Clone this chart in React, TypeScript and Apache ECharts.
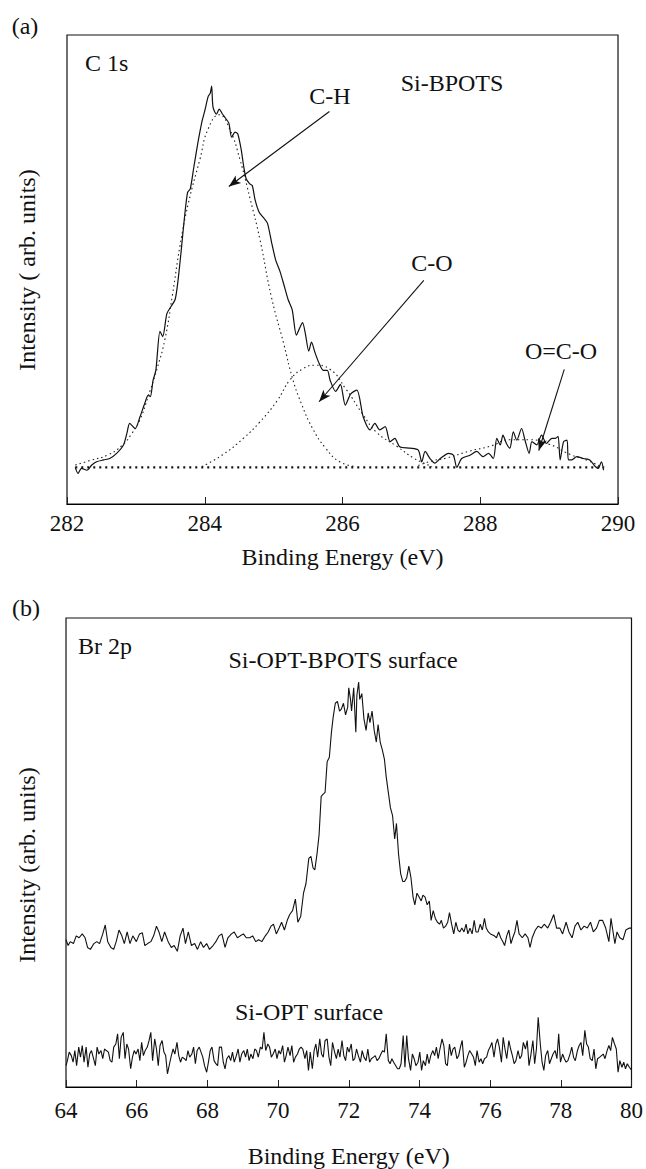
import React, { useEffect, useRef } from "react";
import * as echarts from "echarts";

// ---------- Panel (a): C 1s ----------
const c1sRange = [282, 290];
const c1sTickStep = 2;

const c1sSpectrum: number[][] = [
  [282.12, 7.8], [282.16, 6.5], [282.21, 7.6], [282.29, 7.2], [282.36, 8.3], [282.43, 9.0], [282.53, 9.4],
  [282.62, 9.7], [282.72, 10.8], [282.82, 12.6], [282.87, 15.1], [282.91, 17.2], [282.99, 16.1], [283.06, 18.6],
  [283.13, 21.5], [283.18, 23.2], [283.21, 22.9], [283.25, 26.4], [283.29, 28.5], [283.35, 36.8], [283.39, 35.7],
  [283.45, 40.6], [283.51, 42.1], [283.57, 43.6], [283.61, 47.4], [283.66, 54.3], [283.70, 60.3], [283.75, 66.4],
  [283.79, 67.2], [283.84, 71.7], [283.90, 77.0], [283.96, 81.6], [284.00, 83.8], [284.05, 86.9], [284.08, 87.6],
  [284.10, 89.1], [284.12, 84.6], [284.17, 83.1], [284.21, 84.2], [284.26, 83.1], [284.30, 82.3], [284.35, 81.2],
  [284.39, 78.2], [284.44, 79.3], [284.48, 78.9], [284.53, 75.5], [284.56, 72.5], [284.60, 69.4], [284.65, 68.3],
  [284.69, 67.9], [284.73, 64.9], [284.79, 62.2], [284.85, 61.1], [284.91, 59.9], [284.97, 55.8], [285.03, 52.0],
  [285.09, 49.7], [285.15, 46.7], [285.21, 43.6], [285.27, 41.4], [285.33, 36.0], [285.38, 37.6], [285.42, 38.7],
  [285.46, 36.4], [285.51, 32.6], [285.55, 34.5], [285.60, 32.3], [285.66, 30.0], [285.72, 28.5], [285.78, 28.5],
  [285.82, 26.4], [285.90, 24.0], [285.97, 25.5], [286.04, 21.1], [286.12, 23.5], [286.21, 24.3], [286.30, 18.6],
  [286.40, 15.8], [286.47, 17.2], [286.54, 15.8], [286.62, 16.5], [286.69, 13.3], [286.76, 14.0], [286.83, 12.2],
  [286.98, 11.9], [287.10, 11.5], [287.15, 9.0], [287.20, 11.2], [287.27, 9.7], [287.34, 8.7], [287.42, 9.7],
  [287.54, 10.8], [287.61, 10.4], [287.66, 7.8], [287.73, 9.7], [287.85, 10.4], [287.95, 11.2], [288.04, 10.1],
  [288.12, 10.8], [288.19, 9.7], [288.24, 14.0], [288.29, 12.6], [288.33, 14.7], [288.38, 12.9], [288.43, 11.9],
  [288.48, 15.4], [288.53, 13.6], [288.60, 16.1], [288.65, 13.6], [288.71, 10.8], [288.75, 13.3], [288.82, 12.6],
  [288.89, 14.7], [288.96, 12.9], [289.04, 14.0], [289.09, 14.0], [289.13, 14.4], [289.16, 9.4], [289.21, 13.3],
  [289.26, 13.6], [289.28, 9.4], [289.33, 9.4], [289.40, 10.1], [289.50, 9.7], [289.59, 9.4], [289.67, 8.0],
  [289.71, 7.6], [289.76, 9.0], [289.79, 7.2],
];

const chFit: number[][] = [
  [282.12, 8.3], [282.34, 9.3], [282.6, 10.5], [282.8, 12.5], [282.94, 15.0], [283.06, 18.0], [283.18, 23.0],
  [283.3, 28.5], [283.42, 35.0], [283.53, 44.5], [283.64, 55.0], [283.76, 64.0], [283.93, 73.5], [284.05, 80.0],
  [284.21, 83.0], [284.36, 80.0], [284.51, 73.5], [284.66, 65.0], [284.8, 56.5], [284.97, 44.0], [285.15, 34.0],
  [285.27, 27.0], [285.4, 21.5], [285.57, 16.0], [285.75, 12.0], [285.96, 9.0], [286.2, 8.0],
];

const coFit: number[][] = [
  [283.96, 8.0], [284.26, 10.5], [284.56, 14.0], [284.8, 17.5], [285.05, 22.0], [285.24, 26.5], [285.42, 28.8],
  [285.6, 29.6], [285.81, 28.8], [286.05, 24.5], [286.3, 19.0], [286.5, 15.2], [286.79, 12.3], [287.03, 9.8],
  [287.17, 8.8], [287.3, 8.0],
];

const ocoFit: number[][] = [
  [287.1, 8.2], [287.3, 9.2], [287.51, 9.8], [287.85, 11.3], [288.14, 12.3], [288.43, 13.7], [288.72, 13.7],
  [289.01, 12.7], [289.3, 10.6], [289.59, 9.1], [289.78, 7.7],
];

const c1sBaseline: number[][] = [[282.12, 7.8], [289.8, 7.8]];

// arrows: [from, to] in data units
const c1sArrows: number[][][] = [
  [[285.81, 83.7], [284.35, 67.7]],
  [[287.18, 47.7], [285.66, 21.8]],
  [[289.22, 28.7], [288.85, 11.4]],
];

// ---------- Panel (b): Br 2p ----------
const br2pRange = [64, 80];
const br2pTickStep = 2;

const br2pBPOTS: number[][] = [
  [64.0, 38.0], [64.06, 36.5], [64.12, 37.5], [64.21, 37.0], [64.29, 39.0], [64.37, 38.5], [64.46, 39.5], [64.54, 38.5],
  [64.61, 36.0], [64.69, 35.5], [64.79, 37.0], [64.87, 37.5], [64.95, 37.0], [65.04, 39.5], [65.11, 41.8], [65.18, 37.5],
  [65.27, 36.0], [65.35, 35.5], [65.42, 37.5], [65.5, 40.5], [65.58, 39.0], [65.65, 37.0], [65.73, 40.0], [65.81, 37.0],
  [65.89, 39.0], [65.99, 37.5], [66.08, 39.5], [66.16, 39.8], [66.23, 36.5], [66.31, 37.0], [66.4, 37.5], [66.48, 39.0],
  [66.56, 41.5], [66.63, 40.0], [66.71, 37.5], [66.79, 40.0], [66.89, 37.5], [66.98, 36.0], [67.06, 36.5], [67.15, 35.0],
  [67.23, 39.0], [67.31, 41.0], [67.38, 37.0], [67.46, 40.0], [67.55, 36.5], [67.64, 37.0], [67.72, 35.5], [67.81, 37.5],
  [67.89, 36.0], [67.98, 37.0], [68.06, 35.5], [68.16, 36.5], [68.24, 37.5], [68.33, 39.0], [68.41, 39.5], [68.5, 36.0],
  [68.58, 38.5], [68.68, 39.5], [68.76, 40.0], [68.85, 38.5], [68.93, 39.0], [69.02, 39.5], [69.1, 38.5], [69.2, 38.5],
  [69.28, 39.0], [69.37, 37.5], [69.45, 38.0], [69.54, 37.5], [69.64, 39.0], [69.72, 40.0], [69.8, 41.5], [69.87, 42.0],
  [69.95, 39.5], [70.03, 41.0], [70.1, 42.5], [70.18, 40.5], [70.26, 43.0], [70.33, 44.5], [70.41, 45.5], [70.49, 48.5],
  [70.56, 42.5], [70.64, 44.0], [70.72, 50.0], [70.79, 52.5], [70.87, 59.0], [70.93, 59.5], [70.99, 56.5], [71.04, 56.0],
  [71.1, 60.0], [71.16, 65.0], [71.22, 75.0], [71.27, 75.5], [71.33, 76.0], [71.39, 84.0], [71.45, 85.0], [71.51, 91.5],
  [71.56, 95.5], [71.62, 99.0], [71.68, 99.5], [71.74, 97.0], [71.79, 97.5], [71.85, 99.0], [71.91, 96.0], [71.97, 98.0],
  [72.0, 103.0], [72.05, 100.0], [72.08, 97.0], [72.14, 103.0], [72.2, 91.5], [72.23, 101.0], [72.28, 104.5], [72.31, 100.0],
  [72.37, 101.5], [72.43, 95.0], [72.49, 92.0], [72.55, 96.5], [72.6, 94.0], [72.66, 97.0], [72.72, 92.0], [72.78, 89.0],
  [72.83, 93.5], [72.89, 89.0], [72.95, 87.0], [73.01, 84.5], [73.06, 80.0], [73.12, 76.0], [73.18, 72.0], [73.24, 70.0],
  [73.3, 64.0], [73.35, 68.0], [73.41, 60.0], [73.47, 55.0], [73.53, 53.0], [73.58, 53.0], [73.64, 54.0], [73.7, 57.0],
  [73.76, 54.0], [73.82, 49.0], [73.87, 47.0], [73.93, 50.0], [73.99, 49.0], [74.05, 48.0], [74.1, 49.5], [74.16, 49.0],
  [74.22, 47.0], [74.28, 48.0], [74.33, 43.0], [74.39, 45.5], [74.45, 43.5], [74.51, 42.5], [74.57, 42.0], [74.62, 43.0],
  [74.68, 41.0], [74.74, 41.5], [74.8, 42.5], [74.85, 45.0], [74.91, 42.0], [74.97, 39.5], [75.03, 42.5], [75.09, 40.5],
  [75.14, 40.0], [75.2, 41.0], [75.26, 40.0], [75.32, 42.0], [75.37, 39.5], [75.43, 41.0], [75.49, 39.5], [75.55, 43.0],
  [75.6, 40.0], [75.66, 40.0], [75.72, 42.0], [75.78, 40.5], [75.84, 43.5], [75.89, 41.0], [75.95, 40.0], [76.01, 39.5],
  [76.12, 39.0], [76.18, 38.5], [76.24, 40.0], [76.3, 38.5], [76.36, 37.5], [76.41, 36.5], [76.47, 39.0], [76.53, 40.5],
  [76.59, 37.0], [76.64, 38.5], [76.7, 40.0], [76.76, 43.0], [76.82, 39.5], [76.91, 38.5], [76.99, 39.5], [77.07, 38.5],
  [77.13, 36.0], [77.19, 38.5], [77.28, 40.5], [77.36, 41.5], [77.45, 41.0], [77.53, 42.0], [77.63, 41.0], [77.71, 42.5],
  [77.8, 44.5], [77.88, 41.0], [77.97, 41.0], [78.05, 39.5], [78.15, 42.5], [78.23, 40.0], [78.32, 38.5], [78.4, 41.5],
  [78.48, 42.5], [78.57, 40.5], [78.66, 41.5], [78.75, 41.0], [78.84, 42.5], [78.92, 40.0], [79.01, 41.0], [79.09, 43.0],
  [79.18, 43.0], [79.27, 41.0], [79.36, 37.5], [79.42, 43.5], [79.47, 40.5], [79.53, 37.0], [79.59, 40.0], [79.67, 38.5],
  [79.76, 38.0], [79.84, 40.5], [79.94, 41.0], [80.0, 41.0],
];

const br2pOPT: number[][] = [
  [64.0, 5.5], [64.04, 6.8], [64.09, 9.0], [64.15, 8.1], [64.2, 6.4], [64.25, 9.4], [64.3, 5.5], [64.36, 10.3], [64.41, 7.7],
  [64.46, 10.7], [64.51, 6.4], [64.57, 10.3], [64.62, 5.1], [64.67, 8.5], [64.72, 9.4], [64.78, 7.3], [64.83, 5.5],
  [64.88, 10.3], [64.93, 8.5], [64.99, 9.4], [65.04, 7.3],
  [65.09, 9.8], [65.14, 9.4], [65.2, 9.0], [65.25, 6.8], [65.3, 6.4], [65.35, 10.3], [65.41, 11.1], [65.46, 13.7],
  [65.51, 7.3], [65.56, 12.8], [65.62, 14.1], [65.67, 7.3], [65.72, 11.1], [65.77, 9.8], [65.83, 4.7], [65.88, 7.7],
  [65.93, 9.4], [65.98, 8.5], [66.04, 9.8], [66.09, 6.8],
  [66.14, 11.5], [66.19, 8.1], [66.24, 9.4], [66.3, 10.3], [66.35, 12.0], [66.4, 14.1], [66.45, 6.8], [66.51, 12.4],
  [66.56, 9.8], [66.61, 5.5], [66.66, 10.7], [66.72, 12.0], [66.77, 9.0], [66.82, 8.1], [66.87, 3.4], [66.93, 6.0],
  [66.98, 8.1], [67.03, 9.8], [67.08, 8.5], [67.14, 11.5],
  [67.19, 8.1], [67.24, 6.4], [67.29, 7.7], [67.35, 7.3], [67.4, 6.8], [67.45, 9.4], [67.5, 7.7], [67.56, 8.5],
  [67.61, 10.3], [67.66, 6.0], [67.71, 9.4], [67.77, 10.3], [67.82, 9.0], [67.87, 7.7], [67.92, 5.5], [67.98, 3.8],
  [68.03, 6.4], [68.08, 9.4], [68.13, 10.3], [68.19, 6.8],
  [68.24, 6.0], [68.29, 5.5], [68.34, 10.3], [68.4, 10.3], [68.45, 6.4], [68.5, 4.7], [68.55, 7.3], [68.61, 8.1],
  [68.66, 6.8], [68.71, 9.0], [68.76, 6.4], [68.82, 8.1], [68.87, 9.8], [68.92, 6.4], [68.97, 8.5], [69.03, 9.4],
  [69.08, 7.7], [69.13, 9.8], [69.18, 6.8], [69.23, 8.5],
  [69.29, 7.3], [69.34, 9.8], [69.39, 9.4], [69.44, 7.7], [69.5, 10.3], [69.55, 9.8], [69.6, 14.1], [69.65, 9.4],
  [69.71, 11.1], [69.76, 10.3], [69.81, 7.7], [69.86, 8.5], [69.92, 9.8], [69.97, 7.3], [70.02, 9.4], [70.07, 8.5],
  [70.13, 10.7], [70.18, 6.4], [70.23, 8.1], [70.28, 10.3],
  [70.34, 8.1], [70.39, 10.7], [70.44, 6.4], [70.49, 7.7], [70.55, 8.5], [70.6, 9.8], [70.65, 10.3], [70.7, 9.8],
  [70.76, 7.3], [70.81, 9.4], [70.86, 4.3], [70.91, 9.0], [70.97, 4.7], [71.02, 9.4], [71.07, 11.1], [71.12, 7.7],
  [71.18, 12.4], [71.23, 8.5], [71.28, 7.7], [71.33, 12.0],
  [71.39, 12.4], [71.44, 7.7], [71.49, 5.5], [71.54, 11.5], [71.6, 9.0], [71.65, 7.3], [71.7, 9.8], [71.75, 7.7],
  [71.81, 12.0], [71.86, 8.1], [71.91, 6.8], [71.96, 10.3], [72.01, 9.0], [72.07, 11.1], [72.12, 6.8], [72.17, 7.3],
  [72.22, 9.8], [72.27, 8.1], [72.33, 6.4], [72.38, 9.4],
  [72.43, 7.7], [72.49, 6.8], [72.54, 9.8], [72.59, 6.4], [72.64, 7.3], [72.7, 7.7], [72.75, 8.1], [72.8, 6.8],
  [72.85, 7.3], [72.91, 8.5], [72.96, 9.4], [73.01, 9.0], [73.06, 13.7], [73.12, 6.8], [73.17, 6.0], [73.22, 7.3],
  [73.27, 6.4], [73.33, 5.5], [73.38, 4.7], [73.43, 4.7],
  [73.48, 6.0], [73.54, 13.3], [73.59, 5.1], [73.64, 13.3], [73.69, 7.3], [73.75, 4.3], [73.8, 8.5], [73.85, 7.3],
  [73.9, 5.5], [73.96, 6.4], [74.01, 9.0], [74.06, 4.3], [74.11, 6.8], [74.17, 5.5], [74.22, 8.5], [74.27, 6.0],
  [74.32, 8.1], [74.38, 9.4], [74.43, 8.1], [74.48, 10.3],
  [74.53, 7.3], [74.58, 9.8], [74.64, 12.4], [74.69, 10.7], [74.74, 6.0], [74.79, 5.5], [74.85, 11.1], [74.9, 8.1],
  [74.95, 9.8], [75.0, 10.3], [75.06, 7.3], [75.11, 8.1], [75.16, 10.3], [75.21, 12.0], [75.27, 5.1], [75.32, 6.4],
  [75.37, 8.1], [75.42, 9.4], [75.48, 8.5], [75.53, 7.7],
  [75.58, 5.5], [75.63, 9.4], [75.69, 6.4], [75.74, 7.3], [75.79, 6.0], [75.84, 7.3], [75.9, 7.7], [75.95, 9.4],
  [76.0, 10.3], [76.05, 11.5], [76.11, 7.7], [76.16, 11.1], [76.21, 12.4], [76.26, 10.3], [76.32, 6.4], [76.37, 12.8],
  [76.42, 9.8], [76.47, 7.3], [76.53, 12.0], [76.58, 9.8],
  [76.63, 8.1], [76.68, 6.0], [76.73, 6.8], [76.79, 9.4], [76.84, 7.3], [76.89, 8.1], [76.94, 11.5], [77.0, 9.8],
  [77.05, 12.0], [77.1, 5.5], [77.15, 8.1], [77.21, 12.0], [77.26, 6.0], [77.31, 9.8], [77.36, 18.0], [77.42, 11.1],
  [77.47, 6.4], [77.52, 4.3], [77.57, 8.1], [77.63, 9.4],
  [77.68, 6.0], [77.73, 7.3], [77.78, 8.5], [77.84, 9.4], [77.89, 7.3], [77.94, 13.7], [77.99, 6.4], [78.05, 8.5],
  [78.1, 7.3], [78.15, 6.4], [78.2, 6.8], [78.26, 8.5], [78.31, 10.3], [78.36, 7.7], [78.41, 6.8], [78.47, 9.4],
  [78.52, 10.7], [78.57, 11.5], [78.62, 8.1], [78.68, 14.6],
  [78.73, 11.1], [78.78, 10.3], [78.83, 7.3], [78.89, 6.8], [78.94, 9.8], [78.99, 4.7], [79.04, 7.3], [79.1, 7.7],
  [79.15, 8.1], [79.2, 8.5], [79.25, 7.3], [79.31, 9.4], [79.36, 10.7], [79.41, 9.4], [79.46, 12.8], [79.52, 11.1],
  [79.57, 9.8], [79.62, 3.8], [79.67, 6.8], [79.73, 5.1],
  [79.78, 6.4], [79.83, 4.7], [79.88, 6.0], [79.94, 5.1], [79.99, 4.5],
];

const FONT = "Liberation Serif";

function textEl(text: string, x: number, y: number, align = "center", rotation = 0) {
  return {
    type: "text",
    x,
    y,
    rotation,
    silent: true,
    style: {
      text,
      fill: "#111",
      fontFamily: FONT,
      fontSize: 24,
      textAlign: align,
      textVerticalAlign: "middle",
      align,
      verticalAlign: "middle",
    },
  };
}

function arrowLines(arrows: number[][][]) {
  return arrows.map(([from, to]) => [
    { coord: from, symbol: "none" },
    { coord: to, symbol: "arrow", symbolSize: [7, 12] },
  ]);
}

const dottedStyle = { color: "#222", width: 1.1, type: [1.5, 3] as any };

function xAxisFor(gridIndex: number, range: number[], step: number, labelMargin: number, nameGap: number) {
  return {
    type: "value",
    gridIndex,
    min: range[0],
    max: range[1],
    interval: step,
    name: "Binding Energy (eV)",
    nameLocation: "middle",
    nameGap,
    nameTextStyle: { fontFamily: FONT, fontSize: 24, color: "#111" },
    axisLine: { show: true, onZero: false, lineStyle: { color: "#000", width: 1.2 } },
    axisTick: { show: true, inside: true, length: 7, lineStyle: { color: "#222", width: 1 } },
    axisLabel: { fontFamily: FONT, fontSize: 23, color: "#111", margin: labelMargin },
    splitLine: { show: false },
  };
}

function yAxisFor(gridIndex: number, max: number) {
  return {
    type: "value",
    gridIndex,
    min: 0,
    max,
    axisLine: { show: false },
    axisTick: { show: false },
    axisLabel: { show: false },
    splitLine: { show: false },
  };
}

export default function App() {
  const ref = useRef<HTMLDivElement>(null);

  useEffect(() => {
    document.body.style.margin = "0";
    if (!ref.current) return;
    const chart = echarts.init(ref.current, null, { renderer: "svg" });

    const option: any = {
      animation: false,
      backgroundColor: "#fff",
      textStyle: { fontFamily: FONT },
      grid: [
        { left: 67, top: 35, width: 551, height: 469, show: true, borderColor: "#111", borderWidth: 1.2, backgroundColor: "transparent" },
        { left: 66, top: 618, width: 570, height: 470, show: true, borderColor: "#111", borderWidth: 1.2, backgroundColor: "transparent" },
      ],
      xAxis: [
        xAxisFor(0, c1sRange, c1sTickStep, 8, 41),
        xAxisFor(1, br2pRange, br2pTickStep, 12, 57),
      ],
      yAxis: [yAxisFor(0, 100), yAxisFor(1, 121)],
      series: [
        {
          name: "C 1s spectrum",
          type: "line",
          xAxisIndex: 0,
          yAxisIndex: 0,
          data: c1sSpectrum,
          showSymbol: false,
          smooth: 0.25,
          lineStyle: { color: "#111", width: 1.2 },
          z: 3,
          markLine: {
            silent: true,
            symbol: ["none", "arrow"],
            label: { show: false },
            lineStyle: { color: "#111", width: 1.1, type: "solid" },
            emphasis: { disabled: true },
            data: arrowLines(c1sArrows),
          },
        },
        { name: "C-H", type: "line", xAxisIndex: 0, yAxisIndex: 0, data: chFit, showSymbol: false, smooth: true, lineStyle: dottedStyle },
        { name: "C-O", type: "line", xAxisIndex: 0, yAxisIndex: 0, data: coFit, showSymbol: false, smooth: true, lineStyle: dottedStyle },
        { name: "O=C-O", type: "line", xAxisIndex: 0, yAxisIndex: 0, data: ocoFit, showSymbol: false, smooth: true, lineStyle: dottedStyle },
        {
          name: "Baseline",
          type: "line",
          xAxisIndex: 0,
          yAxisIndex: 0,
          data: c1sBaseline,
          showSymbol: false,
          lineStyle: { color: "#111", width: 2.2, type: [2, 4] },
        },
        {
          name: "Si-OPT-BPOTS surface",
          type: "line",
          xAxisIndex: 1,
          yAxisIndex: 1,
          data: br2pBPOTS,
          showSymbol: false,
          lineStyle: { color: "#111", width: 1.1 },
        },
        {
          name: "Si-OPT surface",
          type: "line",
          xAxisIndex: 1,
          yAxisIndex: 1,
          data: br2pOPT,
          showSymbol: false,
          lineStyle: { color: "#111", width: 1.1 },
        },
      ],
      graphic: [
        textEl("(a)", 25, 26),
        textEl("C 1s", 85, 63, "left"),
        textEl("Si-BPOTS", 452, 83),
        textEl("C-H", 330, 96),
        textEl("C-O", 432, 263),
        textEl("O=C-O", 561, 351),
        textEl("Intensity ( arb. units)", 27, 270, "center", Math.PI / 2),
        textEl("(b)", 26, 608),
        textEl("Br 2p", 78, 646, "left"),
        textEl("Si-OPT-BPOTS surface", 343, 660),
        textEl("Si-OPT surface", 309, 1012),
        textEl("Intensity (arb. units)", 27, 865, "center", Math.PI / 2),
      ],
    };

    chart.setOption(option);
    return () => chart.dispose();
  }, []);

  return <div ref={ref} style={{ width: 646, height: 1169 }} />;
}
